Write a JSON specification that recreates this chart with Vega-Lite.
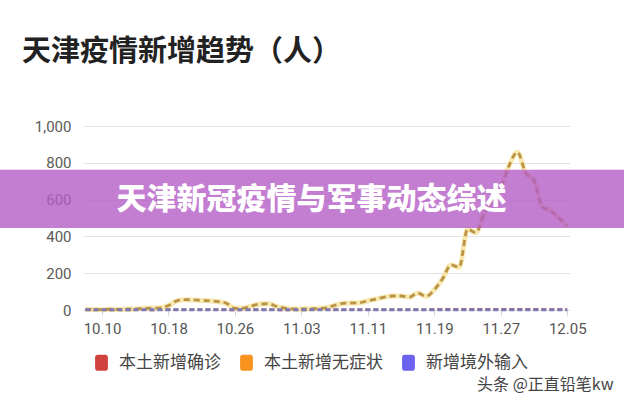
{
  "$schema": "https://vega.github.io/schema/vega-lite/v6.json",
  "width": 487,
  "height": 184,
  "autosize": {"type": "none"},
  "padding": {"left": 83, "top": 126, "right": 54, "bottom": 90},
  "background": "white",
  "title": {
    "text": "天津疫情新增趋势（人）",
    "anchor": "start",
    "frame": "group",
    "dx": -61,
    "offset": 52,
    "fontSize": 29,
    "fontWeight": "bold",
    "font": "Noto Sans CJK SC",
    "color": "#222222"
  },
  "config": {"view": {"stroke": null}},
  "layer": [
    {
      "data": {
        "values": [
          {"日期": "2022/10/08", "本土新增确诊": 1, "本土新增无症状": 3, "新增境外输入": 2},
          {"日期": "2022/10/09", "本土新增确诊": 0, "本土新增无症状": 3, "新增境外输入": 1},
          {"日期": "2022/10/10", "本土新增确诊": 1, "本土新增无症状": 2, "新增境外输入": 2},
          {"日期": "2022/10/11", "本土新增确诊": 0, "本土新增无症状": 4, "新增境外输入": 1},
          {"日期": "2022/10/12", "本土新增确诊": 1, "本土新增无症状": 3, "新增境外输入": 2},
          {"日期": "2022/10/13", "本土新增确诊": 0, "本土新增无症状": 5, "新增境外输入": 1},
          {"日期": "2022/10/14", "本土新增确诊": 1, "本土新增无症状": 6, "新增境外输入": 2},
          {"日期": "2022/10/15", "本土新增确诊": 1, "本土新增无症状": 9, "新增境外输入": 1},
          {"日期": "2022/10/16", "本土新增确诊": 0, "本土新增无症状": 10, "新增境外输入": 2},
          {"日期": "2022/10/17", "本土新增确诊": 1, "本土新增无症状": 12, "新增境外输入": 1},
          {"日期": "2022/10/18", "本土新增确诊": 1, "本土新增无症状": 24, "新增境外输入": 2},
          {"日期": "2022/10/19", "本土新增确诊": 2, "本土新增无症状": 50, "新增境外输入": 1},
          {"日期": "2022/10/20", "本土新增确诊": 1, "本土新增无症状": 56, "新增境外输入": 2},
          {"日期": "2022/10/21", "本土新增确诊": 1, "本土新增无症状": 55, "新增境外输入": 1},
          {"日期": "2022/10/22", "本土新增确诊": 2, "本土新增无症状": 52, "新增境外输入": 2},
          {"日期": "2022/10/23", "本土新增确诊": 1, "本土新增无症状": 50, "新增境外输入": 1},
          {"日期": "2022/10/24", "本土新增确诊": 1, "本土新增无症状": 45, "新增境外输入": 2},
          {"日期": "2022/10/25", "本土新增确诊": 1, "本土新增无症状": 36, "新增境外输入": 1},
          {"日期": "2022/10/26", "本土新增确诊": 0, "本土新增无症状": 9, "新增境外输入": 2},
          {"日期": "2022/10/27", "本土新增确诊": 1, "本土新增无症状": 10, "新增境外输入": 1},
          {"日期": "2022/10/28", "本土新增确诊": 1, "本土新增无症状": 22, "新增境外输入": 2},
          {"日期": "2022/10/29", "本土新增确诊": 2, "本土新增无症状": 32, "新增境外输入": 1},
          {"日期": "2022/10/30", "本土新增确诊": 1, "本土新增无症状": 34, "新增境外输入": 2},
          {"日期": "2022/10/31", "本土新增确诊": 1, "本土新增无症状": 20, "新增境外输入": 1},
          {"日期": "2022/11/01", "本土新增确诊": 0, "本土新增无症状": 10, "新增境外输入": 2},
          {"日期": "2022/11/02", "本土新增确诊": 1, "本土新增无症状": 6, "新增境外输入": 1},
          {"日期": "2022/11/03", "本土新增确诊": 0, "本土新增无症状": 6, "新增境外输入": 2},
          {"日期": "2022/11/04", "本土新增确诊": 1, "本土新增无症状": 7, "新增境外输入": 1},
          {"日期": "2022/11/05", "本土新增确诊": 1, "本土新增无症状": 8, "新增境外输入": 2},
          {"日期": "2022/11/06", "本土新增确诊": 1, "本土新增无症状": 12, "新增境外输入": 1},
          {"日期": "2022/11/07", "本土新增确诊": 2, "本土新增无症状": 25, "新增境外输入": 2},
          {"日期": "2022/11/08", "本土新增确诊": 1, "本土新增无症状": 36, "新增境外输入": 1},
          {"日期": "2022/11/09", "本土新增确诊": 2, "本土新增无症状": 38, "新增境外输入": 2},
          {"日期": "2022/11/10", "本土新增确诊": 1, "本土新增无症状": 40, "新增境外输入": 1},
          {"日期": "2022/11/11", "本土新增确诊": 2, "本土新增无症状": 50, "新增境外输入": 2},
          {"日期": "2022/11/12", "本土新增确诊": 1, "本土新增无症状": 60, "新增境外输入": 1},
          {"日期": "2022/11/13", "本土新增确诊": 2, "本土新增无症状": 70, "新增境外输入": 2},
          {"日期": "2022/11/14", "本土新增确诊": 1, "本土新增无症状": 76, "新增境外输入": 1},
          {"日期": "2022/11/15", "本土新增确诊": 2, "本土新增无症状": 76, "新增境外输入": 2},
          {"日期": "2022/11/16", "本土新增确诊": 1, "本土新增无症状": 70, "新增境外输入": 1},
          {"日期": "2022/11/17", "本土新增确诊": 2, "本土新增无症状": 92, "新增境外输入": 2},
          {"日期": "2022/11/18", "本土新增确诊": 2, "本土新增无症状": 74, "新增境外输入": 1},
          {"日期": "2022/11/19", "本土新增确诊": 3, "本土新增无症状": 110, "新增境外输入": 2},
          {"日期": "2022/11/20", "本土新增确诊": 3, "本土新增无症状": 170, "新增境外输入": 1},
          {"日期": "2022/11/21", "本土新增确诊": 4, "本土新增无症状": 245, "新增境外输入": 2},
          {"日期": "2022/11/22", "本土新增确诊": 3, "本土新增无症状": 232, "新增境外输入": 1},
          {"日期": "2022/11/23", "本土新增确诊": 4, "本土新增无症状": 440, "新增境外输入": 2},
          {"日期": "2022/11/24", "本土新增确诊": 3, "本土新增无症状": 420, "新增境外输入": 1},
          {"日期": "2022/11/25", "本土新增确诊": 4, "本土新增无症状": 525, "新增境外输入": 2},
          {"日期": "2022/11/26", "本土新增确诊": 4, "本土新增无症状": 595, "新增境外输入": 1},
          {"日期": "2022/11/27", "本土新增确诊": 4, "本土新增无症状": 665, "新增境外输入": 2},
          {"日期": "2022/11/28", "本土新增确诊": 4, "本土新增无症状": 784, "新增境外输入": 1},
          {"日期": "2022/11/29", "本土新增确诊": 4, "本土新增无症状": 858, "新增境外输入": 2},
          {"日期": "2022/11/30", "本土新增确诊": 4, "本土新增无症状": 745, "新增境外输入": 1},
          {"日期": "2022/12/01", "本土新增确诊": 4, "本土新增无症状": 703, "新增境外输入": 2},
          {"日期": "2022/12/02", "本土新增确诊": 3, "本土新增无症状": 560, "新增境外输入": 1},
          {"日期": "2022/12/03", "本土新增确诊": 3, "本土新增无症状": 540, "新增境外输入": 2},
          {"日期": "2022/12/04", "本土新增确诊": 3, "本土新增无症状": 500, "新增境外输入": 1},
          {"日期": "2022/12/05", "本土新增确诊": 3, "本土新增无症状": 455, "新增境外输入": 2}
        ]
      },
      "transform": [
        {"fold": ["本土新增确诊", "本土新增无症状", "新增境外输入"], "as": ["类型", "人数"]}
      ],
      "encoding": {
        "x": {
          "field": "日期",
          "type": "temporal",
          "scale": {
            "domain": [
              {"year": 2022, "month": 10, "date": 7, "hours": 17},
              {"year": 2022, "month": 12, "date": 5, "hours": 8}
            ],
            "nice": false
          },
          "axis": {
            "values": [
              {"year": 2022, "month": 10, "date": 10},
              {"year": 2022, "month": 10, "date": 18},
              {"year": 2022, "month": 10, "date": 26},
              {"year": 2022, "month": 11, "date": 3},
              {"year": 2022, "month": 11, "date": 11},
              {"year": 2022, "month": 11, "date": 19},
              {"year": 2022, "month": 11, "date": 27},
              {"year": 2022, "month": 12, "date": 5}
            ],
            "format": "%m.%d",
            "grid": false,
            "domain": false,
            "ticks": true,
            "tickSize": 5,
            "tickColor": "#d4d4d4",
            "labelPadding": 6,
            "labelFont": "Roboto",
            "labelFontSize": 15,
            "labelColor": "#555555",
            "title": "头条 @正直铅笔kw",
            "titleX": 530,
            "titleY": 74,
            "titleAlign": "right",
            "titleBaseline": "middle",
            "titleFont": "Noto Sans CJK SC",
            "titleFontSize": 16,
            "titleFontWeight": "normal",
            "titleColor": "#444444"
          }
        },
        "y": {
          "field": "人数",
          "type": "quantitative",
          "scale": {"domain": [0, 1000], "nice": false},
          "axis": {
            "values": [0, 200, 400, 600, 800, 1000],
            "format": ",d",
            "grid": true,
            "gridColor": "#e4e4e4",
            "ticks": false,
            "domain": false,
            "labelPadding": 12,
            "labelFont": "Roboto",
            "labelFontSize": 15,
            "labelColor": "#5a5a5a",
            "labelOverlap": false,
            "title": null
          }
        }
      },
      "layer": [
        {
          "transform": [{"filter": {"field": "类型", "equal": "本土新增确诊"}}],
          "mark": {"type": "line", "color": "#c0504d", "strokeWidth": 2.5, "strokeDash": [5, 3], "interpolate": "monotone"}
        },
        {
          "transform": [{"filter": {"field": "类型", "equal": "本土新增无症状"}}],
          "mark": {"type": "line", "color": "#f3dc84", "strokeWidth": 5, "opacity": 0.65, "interpolate": "monotone"}
        },
        {
          "transform": [{"filter": {"field": "类型", "equal": "本土新增无症状"}}],
          "mark": {"type": "line", "color": "#bb9346", "strokeWidth": 2.8, "strokeDash": [6, 4], "interpolate": "monotone"}
        },
        {
          "transform": [{"filter": {"field": "类型", "equal": "新增境外输入"}}],
          "mark": {"type": "line", "color": "#7d79b3", "strokeWidth": 3, "strokeDash": [5, 3], "interpolate": "monotone"}
        },
        {
          "mark": {"type": "point", "filled": true, "opacity": 0},
          "encoding": {
            "fill": {
              "field": "类型",
              "type": "nominal",
              "scale": {
                "domain": ["本土新增确诊", "本土新增无症状", "新增境外输入"],
                "range": ["#d0433c", "#f7931e", "#6b62ef"]
              },
              "legend": {
                "orient": "none",
                "legendX": 10,
                "legendY": 228,
                "direction": "horizontal",
                "title": null,
                "padding": 0,
                "symbolType": "M -0.45 -1 L 0.45 -1 Q 0.8 -1 0.8 -0.65 L 0.8 0.65 Q 0.8 1 0.45 1 L -0.45 1 Q -0.8 1 -0.8 0.65 L -0.8 -0.65 Q -0.8 -1 -0.45 -1 Z",
                "symbolSize": 256,
                "symbolOpacity": 1,
                "symbolStrokeWidth": 0,
                "labelFont": "Noto Sans CJK SC",
                "labelFontSize": 17,
                "labelColor": "#444444",
                "labelOffset": 9,
                "columnPadding": 17
              }
            }
          }
        }
      ]
    },
    {
      "data": {"values": [{"横幅": "天津新冠疫情与军事动态综述"}]},
      "layer": [
        {
          "mark": {"type": "rect", "color": "#b45cc6", "opacity": 0.8, "clip": false},
          "encoding": {
            "x": {
              "datum": {"year": 2022, "month": 9, "date": 26},
              "type": "temporal",
              "axis": {
                "values": [
                  {"year": 2022, "month": 10, "date": 10},
                  {"year": 2022, "month": 10, "date": 18},
                  {"year": 2022, "month": 10, "date": 26},
                  {"year": 2022, "month": 11, "date": 3},
                  {"year": 2022, "month": 11, "date": 11},
                  {"year": 2022, "month": 11, "date": 19},
                  {"year": 2022, "month": 11, "date": 27},
                  {"year": 2022, "month": 12, "date": 5}
                ],
                "format": "%m.%d",
                "grid": false,
                "domain": false,
                "ticks": true,
                "tickSize": 5,
                "tickColor": "#d4d4d4",
                "labelPadding": 6,
                "labelFont": "Roboto",
                "labelFontSize": 15,
                "labelColor": "#555555",
                "title": "头条 @正直铅笔kw",
                "titleX": 530,
                "titleY": 74,
                "titleAlign": "right",
                "titleBaseline": "middle",
                "titleFont": "Noto Sans CJK SC",
                "titleFontSize": 16,
                "titleFontWeight": "normal",
                "titleColor": "#444444"
              }
            },
            "x2": {"datum": {"year": 2022, "month": 12, "date": 15}},
            "y": {
              "datum": 762,
              "type": "quantitative",
              "axis": {
                "values": [0, 200, 400, 600, 800, 1000],
                "format": ",d",
                "grid": true,
                "gridColor": "#e4e4e4",
                "ticks": false,
                "domain": false,
                "labelPadding": 12,
                "labelFont": "Roboto",
                "labelFontSize": 15,
                "labelColor": "#5a5a5a",
                "labelOverlap": false,
                "title": null
              }
            },
            "y2": {"datum": 446}
          }
        },
        {
          "mark": {"type": "text", "color": "white", "font": "Noto Sans CJK SC", "fontSize": 30, "fontWeight": 900, "align": "center", "baseline": "middle", "clip": false},
          "encoding": {
            "x": {
              "datum": {"year": 2022, "month": 11, "date": 4, "hours": 5},
              "type": "temporal",
              "axis": {
                "values": [
                  {"year": 2022, "month": 10, "date": 10},
                  {"year": 2022, "month": 10, "date": 18},
                  {"year": 2022, "month": 10, "date": 26},
                  {"year": 2022, "month": 11, "date": 3},
                  {"year": 2022, "month": 11, "date": 11},
                  {"year": 2022, "month": 11, "date": 19},
                  {"year": 2022, "month": 11, "date": 27},
                  {"year": 2022, "month": 12, "date": 5}
                ],
                "format": "%m.%d",
                "grid": false,
                "domain": false,
                "ticks": true,
                "tickSize": 5,
                "tickColor": "#d4d4d4",
                "labelPadding": 6,
                "labelFont": "Roboto",
                "labelFontSize": 15,
                "labelColor": "#555555",
                "title": "头条 @正直铅笔kw",
                "titleX": 530,
                "titleY": 74,
                "titleAlign": "right",
                "titleBaseline": "middle",
                "titleFont": "Noto Sans CJK SC",
                "titleFontSize": 16,
                "titleFontWeight": "normal",
                "titleColor": "#444444"
              }
            },
            "y": {
              "datum": 600,
              "type": "quantitative",
              "axis": {
                "values": [0, 200, 400, 600, 800, 1000],
                "format": ",d",
                "grid": true,
                "gridColor": "#e4e4e4",
                "ticks": false,
                "domain": false,
                "labelPadding": 12,
                "labelFont": "Roboto",
                "labelFontSize": 15,
                "labelColor": "#5a5a5a",
                "labelOverlap": false,
                "title": null
              }
            },
            "text": {"field": "横幅", "type": "nominal"}
          }
        }
      ]
    }
  ]
}
